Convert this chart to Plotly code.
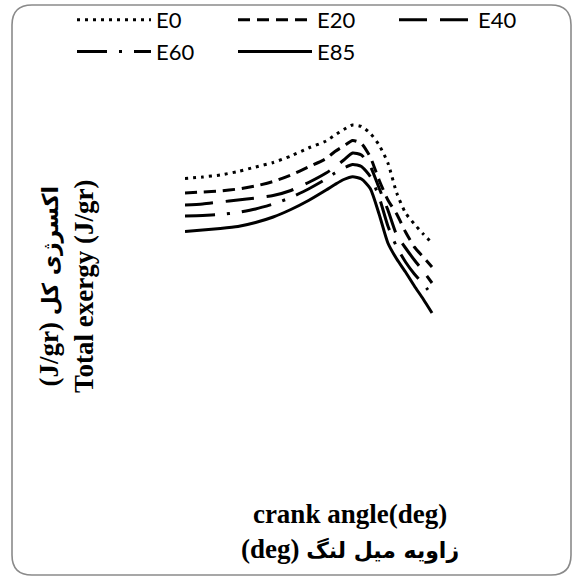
import plotly.graph_objects as go

# ---- data ----
crank_angle = [330, 335, 340, 345, 350, 355, 360, 365, 370, 372.5, 375, 377.5,
               380, 382.5, 385, 387.5, 390, 392.5, 395, 397.5, 400]
E0 = [2.815, 2.83, 2.85, 2.885, 2.93, 2.975, 3.04, 3.12, 3.19, 3.25, 3.305, 3.35,
      3.335, 3.267, 3.15, 2.97, 2.67, 2.47, 2.36, 2.26, 2.17]
E20 = [2.67, 2.68, 2.69, 2.71, 2.74, 2.785, 2.85, 2.93, 3.015, 3.085, 3.14, 3.195,
       3.165, 3.03, 2.80, 2.60, 2.46, 2.28, 2.13, 2.03, 1.93]
E40 = [2.55, 2.56, 2.58, 2.60, 2.62, 2.645, 2.695, 2.775, 2.87, 2.93, 3.00, 3.07,
       3.05, 2.94, 2.72, 2.50, 2.25, 2.12, 2.00, 1.89, 1.77]
E60 = [2.44, 2.445, 2.455, 2.475, 2.51, 2.56, 2.625, 2.71, 2.81, 2.87, 2.92, 2.955,
       2.935, 2.835, 2.63, 2.34, 2.13, 1.98, 1.86, 1.76, 1.65]
E85 = [2.285, 2.30, 2.315, 2.335, 2.375, 2.43, 2.505, 2.595, 2.70, 2.755, 2.805, 2.833,
       2.81, 2.715, 2.46, 2.17, 2.01, 1.88, 1.74, 1.61, 1.47]

series_names = ["E0", "E20", "E40", "E60", "E85"]
series_values = [E0, E20, E40, E60, E85]
dash_styles = ["3px,5px", "12px,7px", "28px,13px", "30px,12px,3px,12px", "solid"]

FA = '<span style="font-family:DejaVu Sans;font-size:22px">'
x_title = f"<b>crank angle(deg)</b><br><b>(deg) {FA}زاویه میل لنگ</span></b>"
y_title = f"<b>(J/gr) {FA}اکسرژی کل</span></b><br><b>Total exergy (J/gr)</b>"

# ---- layout geometry ----
FW, FH = 572, 576
ML, MR, MT, MB = 185, 0, 100, 116
PW, PH = FW - ML - MR, FH - MT - MB
# data span 330..400 deg drawn over 247 px; the right margin is kept inside the axis range
X_PER_PX = 70 / 247
X_RANGE = [330, 330 + PW * X_PER_PX]


def px_x(px):
    return (px - ML) / PW


def px_y(py):
    return (MT + PH - py) / PH


fig = go.Figure()
for name, vals, dash in zip(series_names, series_values, dash_styles):
    fig.add_trace(go.Scatter(
        x=crank_angle, y=vals, name=name, mode="lines",
        line=dict(color="black", width=3, dash=dash, shape="spline", smoothing=0.6),
    ))

# rounded border
x0, y0, x1, y1, r = px_x(12), px_y(5), px_x(571), px_y(575), 20
rx, ry = r / PW, r / PH
path = (f"M{x0 + rx},{y0} L{x1 - rx},{y0} Q{x1},{y0} {x1},{y0 - ry} "
        f"L{x1},{y1 + ry} Q{x1},{y1} {x1 - rx},{y1} "
        f"L{x0 + rx},{y1} Q{x0},{y1} {x0},{y1 + ry} "
        f"L{x0},{y0 - ry} Q{x0},{y0} {x0 + rx},{y0} Z")

fig.update_layout(
    width=FW, height=FH,
    margin=dict(l=ML, r=MR, t=MT, b=MB, autoexpand=False),
    paper_bgcolor="white", plot_bgcolor="white",
    xaxis=dict(range=X_RANGE, visible=False),
    yaxis=dict(range=[0, 3.6], visible=False),
    showlegend=True,
    legend=dict(
        orientation="h", x=px_x(72), y=px_y(-1), xanchor="left", yanchor="top",
        itemwidth=74, entrywidth=72, entrywidthmode="pixels",
        font=dict(family="Lato", size=22, color="black"),
        bgcolor="rgba(0,0,0,0)", traceorder="normal",
    ),
    shapes=[dict(type="path", xref="paper", yref="paper", path=path,
                 line=dict(color="#8a8a8a", width=1.6), layer="below")],
    annotations=[
        dict(text=x_title, xref="paper", yref="paper", x=px_x(350), y=px_y(531),
             xanchor="center", yanchor="middle", showarrow=False,
             font=dict(family="Liberation Serif", size=27, color="black"),
             ),
        dict(text=y_title, xref="paper", yref="paper", x=px_x(66), y=px_y(287),
             xanchor="center", yanchor="middle", showarrow=False, textangle=-90,
             font=dict(family="Liberation Serif", size=27, color="black"),
             ),
    ],
)
fig.write_html("out.html", post_script="document.body.style.margin='0';",
               config={"displayModeBar": False})
